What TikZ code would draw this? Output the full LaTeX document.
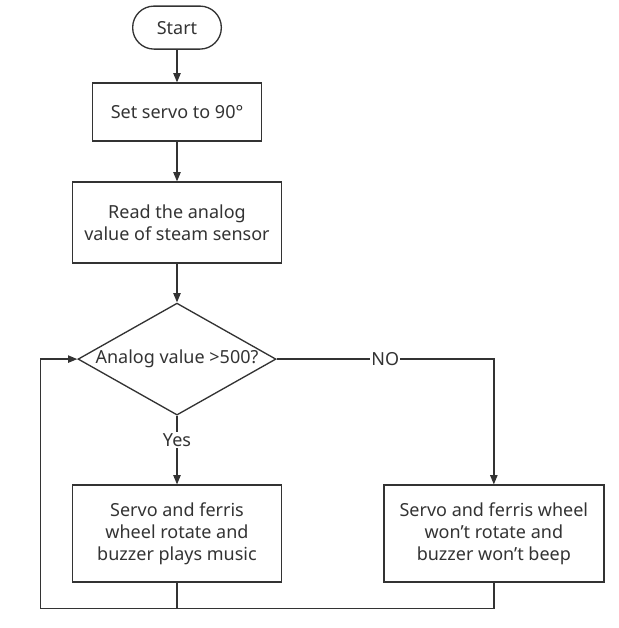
\documentclass[tikz,border=0pt]{standalone}
\usepackage{fontspec}
\setmainfont{Noto Sans}
\usepackage{tikz}
\usetikzlibrary{arrows.meta,positioning,shapes.geometric}
\definecolor{ink}{HTML}{333333}

\begin{document}
\begin{tikzpicture}[font=\fontsize{13.5}{16.5}\selectfont, color=ink, text=ink,
  node distance=24.5pt,
  box/.style={draw=ink, line width=1pt, align=center, inner sep=2pt},
  term/.style={box, rounded corners=16pt, minimum width=66.5pt, minimum height=32.25pt},
  dec/.style={draw=ink, line width=1pt, diamond, minimum width=148.5pt, minimum height=84pt, inner sep=0pt},
  arr/.style={-{Triangle[length=7pt,width=5.5pt]}, line width=1pt, draw=ink},
  line/.style={line width=1pt, draw=ink},
  lbl/.style={fill=white, inner sep=1pt}]
  \useasboundingbox (0,0) rectangle (463.5pt,-471pt);
  \node[term] (start) at (132.75pt,-20.7pt) {Start};
  \node[box, minimum width=126.75pt, minimum height=43.5pt, below=24.5pt of start] (servo) {Set servo to 90°};
  \node[box, minimum width=156.75pt, minimum height=60.75pt, below=29.75pt of servo] (read) {Read the analog\\value of steam sensor};
  \node[dec, below=29pt of read, label=center:{Analog value >500?}] (check) {};
  \node[box, minimum width=156.75pt, minimum height=72.75pt, below=51.5pt of check] (turn) {Servo and ferris\\wheel rotate and\\buzzer plays music};
  \node[box, minimum width=165pt, minimum height=72.75pt, right=75.75pt of turn] (stay) {Servo and ferris wheel\\won't rotate and\\buzzer won't beep};
  \coordinate (back) at ([yshift=-19.5pt]turn.south);
  \coordinate (ret) at ([xshift=-27.75pt]check.west);
  \draw[arr] (start) -- (servo);
  \draw[arr] (servo) -- (read);
  \draw[arr] (read) -- (check);
  \draw[arr] (check) -- node[lbl, pos=0.35] {Yes} (turn);
  \draw[arr] (check.east) -- node[lbl, pos=0.5] {NO} (check.east -| stay.north) -- (stay.north);
  \draw[arr] (turn.south) -- (back) -| (ret) -- (check.west);
  \draw[line] (stay.south) |- (back);
\end{tikzpicture}
\end{document}
